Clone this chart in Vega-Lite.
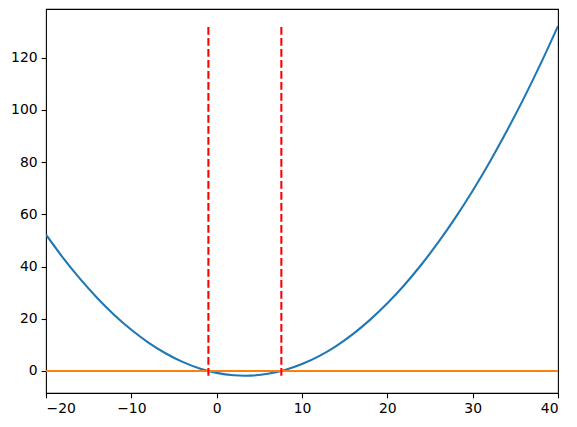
{
  "$schema": "https://vega.github.io/schema/vega-lite/v6.json",
  "width": 512,
  "height": 384,
  "autosize": {"type": "none"},
  "padding": {"left": 46, "top": 9, "right": 19, "bottom": 34},
  "background": "white",
  "config": {
    "view": {"stroke": "black", "strokeWidth": 1.1},
    "font": "DejaVu Sans",
    "axis": {
      "domain": false,
      "grid": false,
      "ticks": true,
      "tickColor": "black",
      "tickSize": 4.9,
      "tickWidth": 1.1,
      "labelFont": "DejaVu Sans",
      "labelFontSize": 13.9,
      "labelColor": "black",
      "labelPadding": 4,
      "title": null
    }
  },
  "datasets": {
    "curve": [
      {"x": -20, "y": 52.222},
      {"x": -18, "y": 43.345},
      {"x": -16, "y": 35.264},
      {"x": -14, "y": 27.978},
      {"x": -12, "y": 21.489},
      {"x": -10, "y": 15.795},
      {"x": -8, "y": 10.898},
      {"x": -6, "y": 6.797},
      {"x": -4, "y": 3.491},
      {"x": -2, "y": 0.982},
      {"x": 0, "y": -0.732},
      {"x": 2, "y": -1.649},
      {"x": 3.3, "y": -1.818},
      {"x": 4, "y": -1.770},
      {"x": 6, "y": -1.096},
      {"x": 8, "y": 0.375},
      {"x": 10, "y": 2.641},
      {"x": 12, "y": 5.704},
      {"x": 14, "y": 9.563},
      {"x": 16, "y": 14.217},
      {"x": 18, "y": 19.668},
      {"x": 20, "y": 25.915},
      {"x": 22, "y": 32.957},
      {"x": 24, "y": 40.796},
      {"x": 26, "y": 49.430},
      {"x": 28, "y": 58.861},
      {"x": 30, "y": 69.088},
      {"x": 32, "y": 80.110},
      {"x": 34, "y": 91.929},
      {"x": 36, "y": 104.543},
      {"x": 38, "y": 117.954},
      {"x": 40, "y": 132.161}
    ],
    "hline": [
      {"x": -20, "y": 0},
      {"x": 40, "y": 0}
    ],
    "vlines": [
      {"x": -0.97, "ymin": -1.818, "ymax": 132.161},
      {"x": 7.58, "ymin": -1.818, "ymax": 132.161}
    ]
  },
  "layer": [
    {
      "data": {"name": "curve"},
      "mark": {"type": "line", "color": "#1f77b4", "strokeWidth": 2.08, "interpolate": "monotone", "clip": true},
      "encoding": {
        "x": {"field": "x", "type": "quantitative", "scale": {"domain": [-20, 40], "nice": false, "zero": false},
              "axis": {"values": [-20, -10, 0, 10, 20, 30, 40]}},
        "y": {"field": "y", "type": "quantitative", "scale": {"domain": [-8.44, 138.7], "nice": false, "zero": false},
              "axis": {"values": [0, 20, 40, 60, 80, 100, 120]}}
      }
    },
    {
      "data": {"name": "hline"},
      "mark": {"type": "line", "color": "#ff7f0e", "strokeWidth": 2.08},
      "encoding": {
        "x": {"field": "x", "type": "quantitative"},
        "y": {"field": "y", "type": "quantitative"}
      }
    },
    {
      "data": {"name": "vlines"},
      "mark": {"type": "rule", "color": "#ff0000", "strokeWidth": 2.08, "strokeDash": [7.7, 3.3]},
      "encoding": {
        "x": {"field": "x", "type": "quantitative"},
        "y": {"field": "ymin", "type": "quantitative"},
        "y2": {"field": "ymax"}
      }
    }
  ]
}
